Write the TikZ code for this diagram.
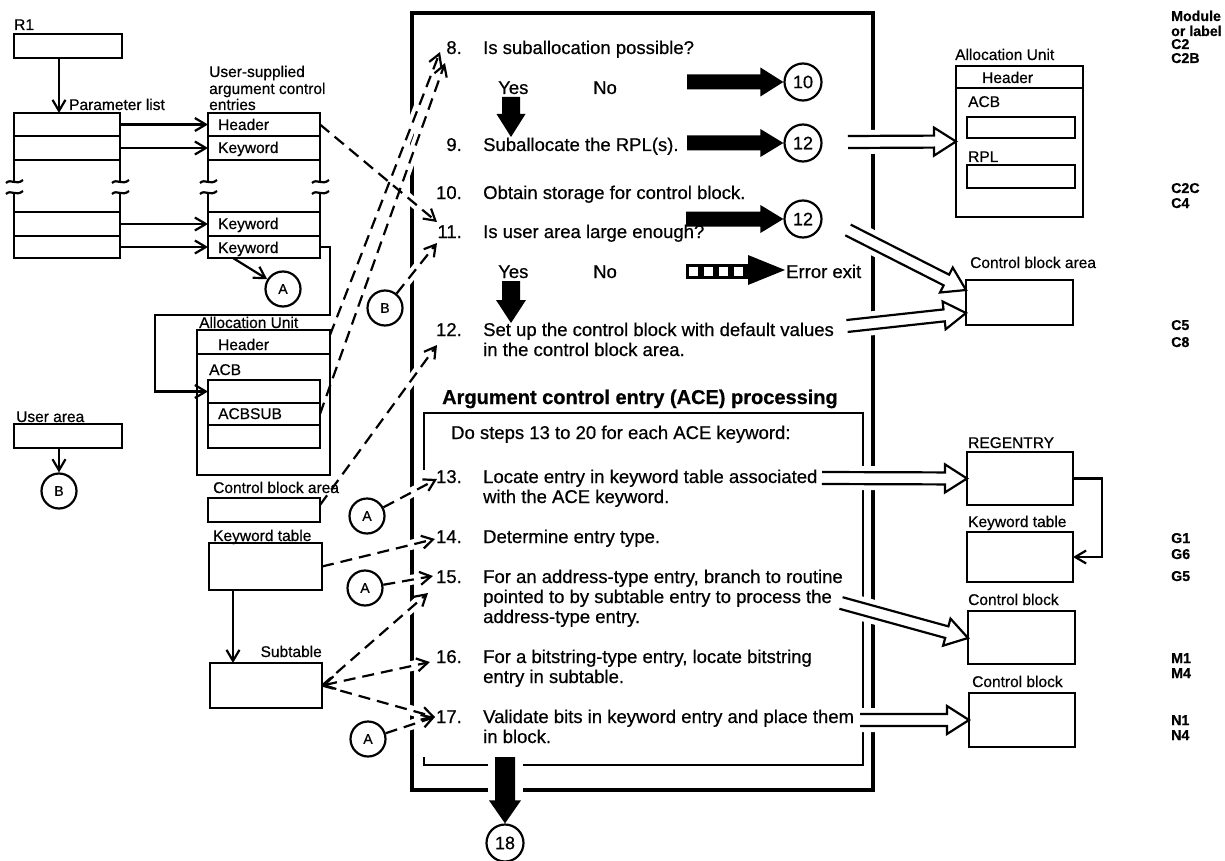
\documentclass[tikz,border=0pt]{standalone}
\usepackage{fontspec}
\setmainfont{Liberation Sans}[FakeBold=0.6]
\usetikzlibrary{arrows.meta,calc}

% rectangle given by its corners (pixel-style coordinates, y downwards)
\newcommand\mkbox[5]{\node[box,minimum width={(#4-#2)*1pt},minimum height={(#5-#3)*1pt}] (#1) at (#2,#3) {};}
% broken side of a list with the two break marks
\newcommand\brkmark[1]{%
  \draw[bl] (#1,160) -- (#1,181) (#1,193) -- (#1,212);
  \draw[bl] (#1-8,183) .. controls (#1-3,178) and (#1+2,186) .. (#1+9,180);
  \draw[bl] (#1-8,194) .. controls (#1-3,189) and (#1+2,197) .. (#1+9,191);}
% open double-line arrow from #1 to #2
\newcommand\hollowarrow[2]{%
  \coordinate (hB) at ($(#2)!22pt!(#1)$);
  \filldraw[hol] ($(#1)!6pt!90:(#2)$) -- ($(hB)!6pt!90:(#2)$) -- ($(hB)!14pt!90:(#2)$) -- (#2)
    -- ($(hB)!14pt!-90:(#2)$) -- ($(hB)!6pt!-90:(#2)$) -- ($(#1)!6pt!-90:(#2)$);}
% solid black arrow: #1 options, #2 shaft half width, #3 head half width, #4 start, #5 tip
\newcommand\fatarrow[5]{%
  \coordinate (fB) at ($(#5)!23pt!(#4)$);
  \fill[#1] ($(#4)!#2!90:(#5)$) -- ($(fB)!#2!90:(#5)$) -- ($(fB)!#3!90:(#5)$) -- (#5)
    -- ($(fB)!#3!-90:(#5)$) -- ($(fB)!#2!-90:(#5)$) -- ($(#4)!#2!-90:(#5)$) -- cycle;}
% dashed references into the step list
\newcommand\dashlinks[2]{%
  \draw[#1] (ae1.east) -- (tip11a);
  \draw[#1] ([yshift=-5pt]au.north east) -- (tip8a);
  \draw[#1] (acb2.east) -- (tip8b);
  \draw[#1] (cB1) -- (tip11b);
  \draw[#1] ([yshift=-7pt]cba.north east) -- (tip12);
  \draw[#1] (cA2) -- (tip13);
  \draw[#1] (kt.east) -- (tip14);
  \draw[#1] (cA3) -- (tip15a);
  \draw[#1] (sub.east) -- (tip15b);
  \draw[#2] (sub.east) -- (tip16);
  \draw[#1] (sub.east) -- (tip17);
  \draw[#1] (cA4) -- (tip17);}

\begin{document}
\begin{tikzpicture}[x=1pt,y=-1pt,
  >={Straight Barb[length=11pt,width=13pt]},
  box/.style={draw,line width=2.2pt,inner sep=0pt,outer sep=0pt,anchor=north west},
  bl/.style={line width=2.2pt},
  lbl/.style={font=\fontsize{15.5}{17}\selectfont,inner sep=0pt,anchor=base west},
  mlbl/.style={lbl,font=\bfseries\fontsize{14.2}{16}\selectfont},
  txt/.style={font=\fontsize{18.5}{20}\selectfont,inner sep=0pt,anchor=base west},
  num/.style={txt,anchor=base east},
  con/.style={line width=2.2pt,->},
  dsh/.style={line width=2.2pt,->,dash pattern=on 12pt off 7pt},
  dshb/.style={dsh,<->},
  knk/.style={draw=white,line width=10pt},
  circ/.style={circle,draw,line width=2.2pt,minimum size=35pt,inner sep=0pt,font=\fontsize{14}{14}\selectfont},
  ncirc/.style={circ,minimum size=37pt,font=\fontsize{18}{18}\selectfont},
  frm/.style={line width=4pt,line join=miter},
  ifrm/.style={line width=2.4pt,line join=miter},
  hol/.style={line width=2.2pt,fill=white,line join=miter},
]
\useasboundingbox (0,0) rectangle (1225,861);

% ---------- left-hand storage ----------
\mkbox{r1}{14}{34}{122}{58}
\mkbox{pl1}{14}{113}{120}{136}
\mkbox{pl2}{14}{136}{120}{160}
\mkbox{pl3}{14}{212}{120}{236}
\mkbox{pl4}{14}{236}{120}{258}
\mkbox{ae1}{208}{113}{320}{136}
\mkbox{ae2}{208}{136}{320}{160}
\mkbox{ae3}{208}{212}{320}{236}
\mkbox{ae4}{208}{236}{320}{258}
\brkmark{14}\brkmark{120}\brkmark{208}\brkmark{320}
\mkbox{au}{197}{330}{330}{475}
\draw[bl] ([yshift=-24pt]au.north west) -- ([yshift=-24pt]au.north east);
\mkbox{acb1}{208}{380}{320}{403}
\mkbox{acb2}{208}{403}{320}{425}
\mkbox{acb3}{208}{425}{320}{448}
\mkbox{ua}{14}{424}{122}{448}
\mkbox{cba}{208}{498}{320}{522}
\mkbox{kt}{209}{543}{322}{590}
\mkbox{sub}{210}{663}{322}{708}

% ---------- right-hand storage ----------
\mkbox{auR}{956}{66}{1083}{217}
\draw[bl] ([yshift=-22pt]auR.north west) -- ([yshift=-22pt]auR.north east);
\mkbox{acbR}{967}{117}{1075}{138}
\mkbox{rplR}{967}{165}{1075}{188}
\mkbox{cbaR}{966}{280}{1073}{325}
\mkbox{reg}{967}{452}{1073}{505}
\mkbox{ktR}{967}{532}{1073}{582}
\mkbox{cb1}{968}{611}{1075}{664}
\mkbox{cb2}{969}{693}{1075}{747}

% ---------- connectors on circles ----------
\node[circ] (cA1) at (283,289) {A};
\node[circ] (cB1) at (385,308) {B};
\node[circ] (cB2) at (59,491) {B};
\node[circ] (cA2) at (367,516) {A};
\node[circ] (cA3) at (365,588) {A};
\node[circ] (cA4) at (368,739) {A};
\node[ncirc] (c10) at (803,82) {10};
\node[ncirc] (c12a) at (803,143) {12};
\node[ncirc] (c12b) at (803,219) {12};
\node[ncirc] (c18) at (505,843) {18};

% ---------- arrow end points at the step numbers ----------
\coordinate (tip8a) at (440,52);
\coordinate (tip8b) at (445,63);
\coordinate (tip11a) at (437,222);
\coordinate (tip11b) at (437,243);
\coordinate (tip12) at (437,345);
\coordinate (tip13) at (437,479);
\coordinate (tip14) at (435,539);
\coordinate (tip15a) at (433,576);
\coordinate (tip15b) at (428,593);
\coordinate (tip16) at (430,662);
\coordinate (tip17) at (435,717);

% ---------- frames round the steps ----------
\draw[frm] (488,790) -- (412,790) -- (412,13) -- (873,13) -- (873,790) -- (523,790);
\draw[ifrm] (424,470) -- (424,413) -- (863,413) -- (863,765) -- (523,765);
\draw[ifrm] (488,765) -- (424,765) -- (424,757);

% hollow arrow start and end points
\coordinate (hs9) at (848,142);
\coordinate (hs11) at (848,230);
\coordinate (hs12) at (847,326);
\coordinate (hs13) at (822,478);
\coordinate (hs15) at (841,603);
\coordinate (hs17) at (860,720);
\coordinate (he11) at ($(cbaR.north west)+(0,10)$);
\coordinate (he12) at ($(cbaR.north west)+(0,33)$);
\coordinate (he15) at ($(cb1.north west)+(0,27)$);
\coordinate (he17) at ($(cb2.north west)+(0,27)$);

% gaps in the frame lines where arrows cross
\begin{scope}
  \clip (402,0) rectangle (432,861);
  \dashlinks{knk}{knk}
\end{scope}
\begin{scope}
  \clip (856,0) rectangle (881,861);
  \draw[white,line width=24pt] (hs9) -- (auR.west) (hs11) -- (he11) (hs12) -- (he12)
    (hs13) -- (reg.west) (hs15) -- (he15) (hs17) -- (he17);
\end{scope}

% ---------- plain connectors ----------
\draw[con] ([xshift=45pt]r1.south west) -- ([xshift=45pt]pl1.north west);
\foreach \k in {1,...,4} \draw[con] (pl\k.east) -- (ae\k.west);
\draw[con] ([xshift=25pt]ae4.south west) -- (cA1);
\draw[con] (ae4.east) -- ++(10,0) -- ++(0,68) -- (155,315) |- (acb1.west);
\draw[con] ([xshift=45pt]ua.south west) -- (cB2);
\draw[con] ([xshift=24pt]kt.south west) -- ([xshift=23pt]sub.north west);
\draw[con] (reg.east) -- ++(29,0) |- (ktR.east);

\dashlinks{dsh}{dshb}

% ---------- hollow arrows to the storage on the right ----------
\hollowarrow{hs9}{auR.west}
\hollowarrow{hs11}{he11}
\hollowarrow{hs12}{he12}
\hollowarrow{hs13}{reg.west}
\hollowarrow{hs15}{he15}
\hollowarrow{hs17}{he17}

% ---------- heavy flow arrows ----------
\coordinate (fs10) at (687,82);
\coordinate (fs12a) at (687,143);
\coordinate (fs12b) at (686,219);
\coordinate (fy8) at (511,97);
\coordinate (fy8e) at (511,137);
\coordinate (fy11) at (511,281);
\coordinate (fy11e) at (511,323);
\coordinate (f18) at (505,757);
\fatarrow{}{7.5pt}{14.5pt}{fs10}{c10.west}
\fatarrow{}{7.5pt}{14pt}{fs12a}{c12a.west}
\fatarrow{}{7.5pt}{14pt}{fs12b}{c12b.west}
\fatarrow{}{9pt}{14.5pt}{fy8}{fy8e}
\fatarrow{}{9pt}{15pt}{fy11}{fy11e}
\fatarrow{}{10pt}{16pt}{f18}{c18.north}
% error exit: broken shaft
\fill (686,264) rectangle (750,279);
\foreach \i in {0,...,3} \fill[white] (689+15*\i,267) rectangle ++(9,9);
\coordinate (ee) at (785,270);
\fill (748,255) -- (ee) -- (748,285) -- cycle;

% ---------- labels, left ----------
\node[lbl] (lR1) at (14,30) {R1};
\node[lbl] (lPL) at (69,110) {Parameter list};
\node[lbl] (lUS1) at (209,77) {User-supplied};
\node[lbl] (lUS2) at (209,94) {argument control};
\node[lbl] (lUS3) at (209,110) {entries};
\node[lbl] (lH1) at (218,130) {Header};
\node[lbl] (lK1) at (218,153) {Keyword};
\node[lbl] (lK2) at (218,229) {Keyword};
\node[lbl] (lK3) at (218,253) {Keyword};
\node[lbl] (lAU) at (199,328) {Allocation Unit};
\node[lbl] (lH2) at (218,350) {Header};
\node[lbl] (lACB) at (209,375) {ACB};
\node[lbl] (lSUB) at (218,419) {ACBSUB};
\node[lbl] (lUA) at (16,422) {User area};
\node[lbl] (lCBA) at (213,493) {Control block area};
\node[lbl] (lKT) at (213,541) {Keyword table};
\node[lbl,anchor=base east] (lST) at (322,657) {Subtable};

% ---------- labels, right ----------
\node[lbl] (rAU) at (955,60) {Allocation Unit};
\node[lbl] (rH) at (982,83) {Header};
\node[lbl] (rACB) at (968,107) {ACB};
\node[lbl] (rRPL) at (968,162) {RPL};
\node[lbl] (rCBA) at (970,268) {Control block area};
\node[lbl] (rREG) at (968,448) {REGENTRY};
\node[lbl] (rKT) at (968,527) {Keyword table};
\node[lbl] (rCB1) at (968,605) {Control block};
\node[lbl] (rCB2) at (972,687) {Control block};

\node[mlbl] (m1) at (1171,21) {Module};
\node[mlbl] (m2) at (1171,36) {or label};
\node[mlbl] (m3) at (1171,49) {C2};
\node[mlbl] (m4) at (1171,63) {C2B};
\node[mlbl] (m5) at (1171,193) {C2C};
\node[mlbl] (m6) at (1171,208) {C4};
\node[mlbl] (m7) at (1171,330) {C5};
\node[mlbl] (m8) at (1171,347) {C8};
\node[mlbl] (m9) at (1171,543) {G1};
\node[mlbl] (m10) at (1171,559) {G6};
\node[mlbl] (m11) at (1171,581) {G5};
\node[mlbl] (m12) at (1171,663) {M1};
\node[mlbl] (m13) at (1171,678) {M4};
\node[mlbl] (m14) at (1171,725) {N1};
\node[mlbl] (m15) at (1171,740) {N4};

% ---------- steps ----------
\node[num] (n8) at (462,54) {8.};
\node[txt] (s8) at (483,54) {Is suballocation possible?};
\node[txt] (y8) at (498,94) {Yes};
\node[txt] (no8) at (593,94) {No};
\node[num] (n9) at (462,151) {9.};
\node[txt] (s9) at (483,151) {Suballocate the RPL(s).};
\node[num] (n10) at (462,199) {10.};
\node[txt] (s10) at (483,199) {Obtain storage for control block.};
\node[num] (n11) at (462,238) {11.};
\node[txt] (s11) at (483,238) {Is user area large enough?};
\node[txt] (y11) at (498,278) {Yes};
\node[txt] (no11) at (593,278) {No};
\node[txt] (err) at (786,278) {Error exit};
\node[num] (n12) at (462,336) {12.};
\node[txt] (s12a) at (483,336) {Set up the control block with default values};
\node[txt] (s12b) at (483,356) {in the control block area.};
\node[txt,font=\bfseries\fontsize{20}{21}\selectfont] (head) at (442,404) {Argument control entry (ACE) processing};
\node[txt] (loop) at (451,439) {Do steps 13 to 20 for each ACE keyword:};
\node[num] (n13) at (462,483) {13.};
\node[txt] (s13a) at (483,483) {Locate entry in keyword table associated};
\node[txt] (s13b) at (483,503) {with the ACE keyword.};
\node[num] (n14) at (462,543) {14.};
\node[txt] (s14) at (483,543) {Determine entry type.};
\node[num] (n15) at (462,583) {15.};
\node[txt] (s15a) at (483,583) {For an address-type entry, branch to routine};
\node[txt] (s15b) at (483,603) {pointed to by subtable entry to process the};
\node[txt] (s15c) at (483,623) {address-type entry.};
\node[num] (n16) at (462,663) {16.};
\node[txt] (s16a) at (483,663) {For a bitstring-type entry, locate bitstring};
\node[txt] (s16b) at (483,683) {entry in subtable.};
\node[num] (n17) at (462,723) {17.};
\node[txt] (s17a) at (483,723) {Validate bits in keyword entry and place them};
\node[txt] (s17b) at (483,743) {in block.};
\end{tikzpicture}
\end{document}
